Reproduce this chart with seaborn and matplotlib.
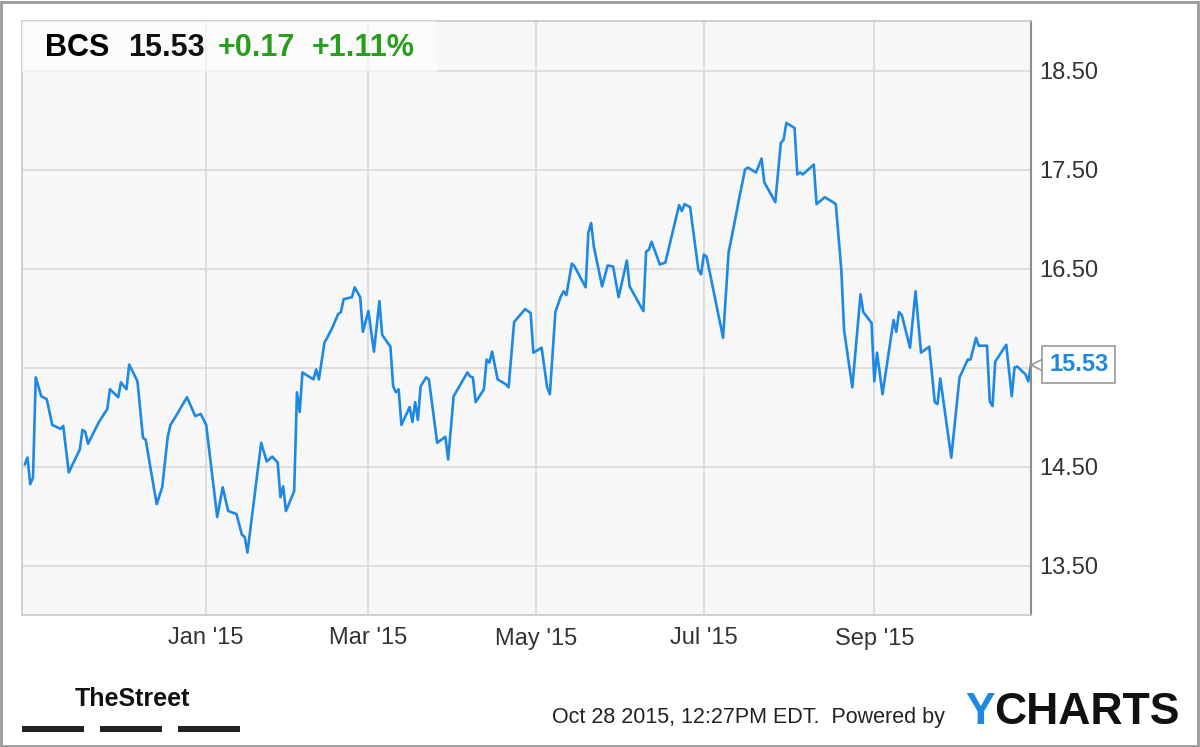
import numpy as np
import pandas as pd
import matplotlib
matplotlib.use('Agg')
import matplotlib.pyplot as plt
import matplotlib.dates as mdates
import matplotlib.transforms as mtransforms
from matplotlib.patches import Rectangle
import seaborn as sns

# BCS daily close, Oct 2014 - Oct 2015
dates = [
    '2014-10-27', '2014-10-28', '2014-10-29', '2014-10-30', '2014-10-31',
    '2014-11-02', '2014-11-04', '2014-11-06', '2014-11-09', '2014-11-10', '2014-11-12',
    '2014-11-16', '2014-11-17', '2014-11-18', '2014-11-19', '2014-11-23', '2014-11-26',
    '2014-11-27', '2014-11-30',
    '2014-12-01', '2014-12-03', '2014-12-04', '2014-12-07', '2014-12-09', '2014-12-10',
    '2014-12-12', '2014-12-14', '2014-12-16', '2014-12-18', '2014-12-19', '2014-12-21',
    '2014-12-25', '2014-12-28', '2014-12-30',
    '2015-01-01', '2015-01-05', '2015-01-07', '2015-01-09', '2015-01-12', '2015-01-14',
    '2015-01-15', '2015-01-16', '2015-01-21', '2015-01-23', '2015-01-25', '2015-01-27',
    '2015-01-28', '2015-01-29', '2015-01-30',
    '2015-02-02', '2015-02-03', '2015-02-04', '2015-02-05', '2015-02-09', '2015-02-10',
    '2015-02-11', '2015-02-13', '2015-02-14', '2015-02-16', '2015-02-18', '2015-02-19',
    '2015-02-20', '2015-02-23', '2015-02-24', '2015-02-26', '2015-02-27',
    '2015-03-01', '2015-03-03', '2015-03-05', '2015-03-06', '2015-03-09', '2015-03-10',
    '2015-03-11', '2015-03-12', '2015-03-13', '2015-03-16', '2015-03-17', '2015-03-18',
    '2015-03-19', '2015-03-20', '2015-03-22', '2015-03-23', '2015-03-26', '2015-03-29',
    '2015-03-30',
    '2015-04-01', '2015-04-06', '2015-04-07', '2015-04-08', '2015-04-09', '2015-04-12',
    '2015-04-13', '2015-04-14', '2015-04-15', '2015-04-17', '2015-04-20', '2015-04-21',
    '2015-04-23', '2015-04-27', '2015-04-29', '2015-04-30',
    '2015-05-03', '2015-05-05', '2015-05-06', '2015-05-08', '2015-05-10', '2015-05-11',
    '2015-05-12', '2015-05-14', '2015-05-15', '2015-05-19', '2015-05-20', '2015-05-21',
    '2015-05-22', '2015-05-25', '2015-05-27', '2015-05-29', '2015-05-31',
    '2015-06-03', '2015-06-04', '2015-06-09', '2015-06-10', '2015-06-11', '2015-06-12',
    '2015-06-15', '2015-06-17', '2015-06-22', '2015-06-23', '2015-06-24', '2015-06-26',
    '2015-06-29', '2015-06-30',
    '2015-07-01', '2015-07-02', '2015-07-08', '2015-07-10', '2015-07-12', '2015-07-14',
    '2015-07-16', '2015-07-17', '2015-07-20', '2015-07-22', '2015-07-23', '2015-07-27',
    '2015-07-29', '2015-07-30', '2015-07-31',
    '2015-08-03', '2015-08-04', '2015-08-05', '2015-08-06', '2015-08-10', '2015-08-11',
    '2015-08-14', '2015-08-17', '2015-08-18', '2015-08-20', '2015-08-21', '2015-08-24',
    '2015-08-27', '2015-08-28', '2015-08-31',
    '2015-09-01', '2015-09-02', '2015-09-04', '2015-09-08', '2015-09-09', '2015-09-10',
    '2015-09-11', '2015-09-14', '2015-09-16', '2015-09-18', '2015-09-21', '2015-09-23',
    '2015-09-24', '2015-09-25', '2015-09-29',
    '2015-10-02', '2015-10-05', '2015-10-06', '2015-10-08', '2015-10-09', '2015-10-12',
    '2015-10-13', '2015-10-14', '2015-10-15', '2015-10-19', '2015-10-21', '2015-10-22',
    '2015-10-23', '2015-10-26', '2015-10-27', '2015-10-28',
]
prices = [
    14.52, 14.59, 14.32, 14.39, 15.40,
    15.21, 15.18, 14.92, 14.88, 14.91, 14.44,
    14.67, 14.87, 14.85, 14.73, 14.95, 15.08,
    15.28, 15.20,
    15.35, 15.28, 15.53, 15.36, 14.79, 14.77,
    14.44, 14.12, 14.29, 14.80, 14.92, 15.01,
    15.20, 15.01, 15.03,
    14.92, 13.99, 14.29, 14.05, 14.02, 13.81,
    13.79, 13.63, 14.74, 14.55, 14.60, 14.54,
    14.19, 14.30, 14.05,
    14.25, 15.25, 15.05, 15.45, 15.38, 15.48,
    15.38, 15.75, 15.80, 15.91, 16.04, 16.06,
    16.19, 16.21, 16.31, 16.21, 15.86,
    16.07, 15.66, 16.17, 15.83, 15.71, 15.31,
    15.25, 15.28, 14.92, 15.10, 14.95, 15.15,
    14.97, 15.31, 15.40, 15.38, 14.74, 14.80,
    14.57,
    15.21, 15.45, 15.41, 15.40, 15.15, 15.28,
    15.58, 15.55, 15.66, 15.38, 15.33, 15.30,
    15.96, 16.09, 16.05, 15.65,
    15.70, 15.30, 15.23, 16.06, 16.22, 16.27,
    16.23, 16.55, 16.52, 16.31, 16.86, 16.96,
    16.72, 16.32, 16.53, 16.52, 16.21,
    16.58, 16.32, 16.07, 16.67, 16.69, 16.77,
    16.54, 16.56, 17.14, 17.08, 17.15, 17.12,
    16.49, 16.44,
    16.64, 16.62, 15.80, 16.66, 16.94, 17.23,
    17.50, 17.52, 17.47, 17.61, 17.37, 17.17,
    17.77, 17.80, 17.97,
    17.92, 17.45, 17.47, 17.45, 17.55, 17.15,
    17.22, 17.17, 17.15, 16.49, 15.88, 15.30,
    16.24, 16.06, 15.95,
    15.36, 15.65, 15.23, 15.98, 15.86, 16.06,
    16.03, 15.70, 16.27, 15.65, 15.71, 15.15,
    15.13, 15.39, 14.59,
    15.40, 15.58, 15.58, 15.80, 15.72, 15.72,
    15.16, 15.11, 15.56, 15.73, 15.21, 15.50,
    15.51, 15.43, 15.36, 15.53,
]

ticker = 'BCS'
last_price = '15.53'
change = '+0.17'
change_pct = '+1.11%'
y_ticks = [13.5, 14.5, 15.5, 16.5, 17.5, 18.5]

df = pd.DataFrame({'date': pd.to_datetime(dates), 'price': prices})

line_color = '#1e88e5'
green = '#2a9d1f'

sns.set_style('white')
plt.rcParams['font.family'] = ['Liberation Sans', 'DejaVu Sans']

fig = plt.figure(figsize=(12, 7.47), dpi=100)
ax = fig.add_axes([22 / 1200, 1 - 615 / 747, (1031 - 22) / 1200, (615 - 21) / 747])
ax.set_facecolor('#f7f7f7')

sns.lineplot(data=df, x='date', y='price', ax=ax, color=line_color, linewidth=1.9)

ax.set_xlim(pd.Timestamp('2014-10-26'), pd.Timestamp('2015-10-28'))
ax.set_ylim(13.0, 19.0)
ax.set_xlabel('')
ax.set_ylabel('')

last_x = df['date'].iloc[-1]
last_y = df['price'].iloc[-1]

ax.xaxis.set_major_locator(mdates.MonthLocator(bymonth=[1, 3, 5, 7, 9]))
ax.xaxis.set_major_formatter(mdates.DateFormatter("%b '%y"))
ax.yaxis.tick_right()
ax.set_yticks(y_ticks)
# the tick label next to the last-price tag is hidden behind it
ax.set_yticklabels(['' if abs(v - last_y) < 0.2 else f'{v:.2f}' for v in y_ticks])
ax.tick_params(axis='both', length=0, labelsize=17, labelcolor='#333333')
ax.tick_params(axis='x', pad=9)
ax.tick_params(axis='y', pad=6)
ax.grid(True, color='#dadada', linewidth=1.2)
ax.set_axisbelow(True)

for side in ['top', 'left', 'bottom']:
    ax.spines[side].set_color('#c8c8c8')
    ax.spines[side].set_linewidth(1.2)
ax.spines['right'].set_color('#8c8c8c')
ax.spines['right'].set_linewidth(1.5)

# header box with ticker quote
ax.add_patch(Rectangle((0, 1 - 51 / 594), 415 / 1009, 51 / 594, transform=ax.transAxes,
                       facecolor='white', alpha=0.6, edgecolor='none', zorder=3))
hy = 1 - 48 / 747
fig.text(45 / 1200, hy, ticker, fontsize=22, fontweight='bold', color='black', va='center')
fig.text(128 / 1200, hy, last_price, fontsize=22, fontweight='bold', color='#111111', va='center')
fig.text(218 / 1200, hy, change, fontsize=22, fontweight='bold', color=green, va='center')
fig.text(312 / 1200, hy, change_pct, fontsize=22, fontweight='bold', color=green, va='center')

# last value tag on the right axis
tab = mtransforms.offset_copy(ax.transData, fig=fig, x=6, y=0, units='points')
ax.plot([last_x], [last_y], marker='<', markersize=11, markerfacecolor='white',
        markeredgecolor='#999999', markeredgewidth=1.2, transform=tab, clip_on=False, zorder=4)
ax.annotate(last_price, xy=(last_x, last_y), xycoords='data',
            xytext=(13, 0), textcoords='offset points', ha='left', va='center',
            fontsize=17, fontweight='bold', color=line_color, annotation_clip=False, zorder=5,
            bbox=dict(boxstyle='square,pad=0.3', facecolor='white', edgecolor='#999999', linewidth=1.2))

# footer
fig.text(945 / 1200, 1 - 718 / 747, 'Oct 28 2015, 12:27PM EDT.  Powered by', fontsize=15.5,
         color='#222222', ha='right', va='center')
y_logo = fig.text(965 / 1200, 1 - 713 / 747, 'Y', fontsize=32, fontweight='bold',
                  color=line_color, va='center')
ax.annotate('CHARTS', xy=(1, 0), xycoords=y_logo, ha='left', va='bottom', fontsize=32,
            fontweight='bold', color='#111111', annotation_clip=False)
fig.text(132 / 1200, 1 - 699 / 747, 'TheStreet', fontsize=18, fontweight='bold', color='#111111',
         ha='center', va='center')
for x0 in [22, 100, 178]:
    fig.add_artist(Rectangle((x0 / 1200, 1 - 732 / 747), 62 / 1200, 6 / 747,
                             transform=fig.transFigure, facecolor='#222222', edgecolor='none'))

# outer frame
fig.add_artist(Rectangle((0.001, 0.002), 0.997, 0.995, transform=fig.transFigure,
                         fill=False, edgecolor='#999999', linewidth=2))

fig.savefig('out.png', dpi=100, facecolor='white')
